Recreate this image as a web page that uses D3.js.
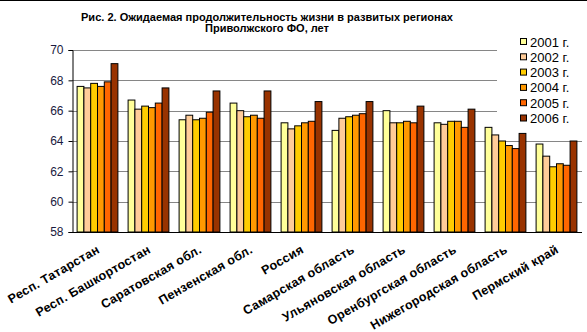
<!DOCTYPE html>
<html>
<head>
<meta charset="utf-8">
<script src="https://cdn.jsdelivr.net/npm/d3@7"></script>
<style>
  html, body { margin: 0; padding: 0; background: #fff; }
  svg { display: block; font-family: Arial, "Liberation Sans", sans-serif; }
</style>
</head>
<body>
<svg id="chart" width="587" height="332"></svg>
<script>
// Regions of the Volga Federal District plus Russia overall
const regions = [
  "Респ. Татарстан", "Респ. Башкортостан", "Саратовская обл.", "Пензенская обл.",
  "Россия", "Самарская область", "Ульяновская область", "Оренбургская область",
  "Нижегородская область", "Пермский край"
];
const years = ["2001 г.", "2002 г.", "2003 г.", "2004 г.", "2005 г.", "2006 г."];
const yearColors = ["#FFFF99", "#FFCC99", "#FFCC00", "#FF9900", "#FF6600", "#993300"];

// Life expectancy, years — one array per year, in region order
const v2001 = [67.6, 66.7, 65.4, 66.5, 65.2, 64.7, 66.0, 65.2, 64.9, 63.8];
const v2002 = [67.5, 66.1, 65.7, 66.0, 64.8, 65.5, 65.2, 65.1, 64.4, 63.0];
const v2003 = [67.8, 66.3, 65.4, 65.6, 65.0, 65.6, 65.2, 65.3, 64.0, 62.3];
const v2004 = [67.6, 66.2, 65.5, 65.7, 65.2, 65.7, 65.3, 65.3, 63.7, 62.5];
const v2005 = [67.9, 66.5, 65.9, 65.5, 65.3, 65.8, 65.2, 64.9, 63.5, 62.4];
const v2006 = [69.1, 67.5, 67.3, 67.3, 66.6, 66.6, 66.3, 66.1, 64.5, 64.0];
const series = [v2001, v2002, v2003, v2004, v2005, v2006];

const yTicks = [58, 60, 62, 64, 66, 68, 70];
const titleLines = [
  "Рис. 2. Ожидаемая продолжительность жизни в развитых регионах",
  "Приволжского ФО, лет"
];
const titleWidths = [372, 124];

const svg = d3.select("#chart");
const plot = { left: 72, right: 582, top: 50, bottom: 232 };

const x = d3.scaleBand().domain(regions).range([plot.left, plot.right])
  .paddingInner(0.2).paddingOuter(0.1);
const xSub = d3.scaleBand().domain(years).range([0, x.bandwidth()]);
const y = d3.scaleLinear().domain([58, 70]).range([plot.bottom, plot.top]);

// frame line along the top edge
svg.append("line").attr("x1", 0).attr("x2", 587).attr("y1", 0.5).attr("y2", 0.5)
  .attr("stroke", "#000").attr("stroke-width", 1);

// title
svg.append("g").selectAll("text").data(titleLines).join("text")
  .attr("x", 267).attr("y", (d, i) => 20.5 + i * 11.5)
  .attr("text-anchor", "middle")
  .attr("font-size", 11.5).attr("font-weight", "bold").attr("fill", "#000")
  .attr("textLength", (d, i) => titleWidths[i])
  .attr("lengthAdjust", "spacingAndGlyphs")
  .text(d => d);

// horizontal gridlines
svg.append("g").selectAll("line").data(yTicks.filter(t => t > 58)).join("line")
  .attr("x1", plot.left).attr("x2", plot.right)
  .attr("y1", d => Math.round(y(d)) + 0.5).attr("y2", d => Math.round(y(d)) + 0.5)
  .attr("stroke", "#868686").attr("stroke-width", 1);

// bars
const groups = svg.append("g").selectAll("g").data(regions).join("g")
  .attr("transform", d => `translate(${x(d)},0)`);
groups.selectAll("rect")
  .data((r, ri) => years.map((yr, k) => ({ yr, k, v: series[k][ri] })))
  .join("rect")
  .attr("x", d => xSub(d.yr))
  .attr("width", xSub.bandwidth())
  .attr("y", d => y(d.v))
  .attr("height", d => y(58) - y(d.v))
  .attr("fill", d => yearColors[d.k])
  .attr("stroke", "#000").attr("stroke-width", 1);

// y axis
const yAxis = d3.axisLeft(y).tickValues(yTicks).tickSize(4).tickPadding(5).tickFormat(d3.format("d"));
const ga = svg.append("g").attr("transform", `translate(${plot.left + 0.5},0)`).call(yAxis);
ga.select(".domain").attr("stroke", "#000");
ga.selectAll(".tick line").attr("stroke", "#000");
ga.selectAll(".tick text").attr("font-size", 12).attr("fill", "#1a1a40")
  .attr("font-family", "Arial, 'Liberation Sans', sans-serif");

// baseline
svg.append("line").attr("x1", plot.left).attr("x2", plot.right)
  .attr("y1", Math.round(y(58)) + 0.5).attr("y2", Math.round(y(58)) + 0.5)
  .attr("stroke", "#000").attr("stroke-width", 1.2);

// category labels, slanted
svg.append("g").selectAll("text").data(regions).join("text")
  .attr("transform", d => `translate(${x(d) + x.bandwidth() / 2 + 3},252) rotate(-30)`)
  .attr("text-anchor", "end")
  .attr("font-size", 12.5).attr("font-weight", "bold").attr("fill", "#000")
  .attr("letter-spacing", 0.3)
  .text(d => d);

// legend
const legend = svg.append("g");
legend.append("rect").attr("x", 497).attr("y", 33).attr("width", 85).attr("height", 96)
  .attr("fill", "#fff");
const items = legend.selectAll("g").data(years).join("g")
  .attr("transform", (d, i) => `translate(520,${46.5 + i * 15.3})`);
items.append("rect").attr("x", 0.5).attr("y", -8).attr("width", 6).attr("height", 6)
  .attr("fill", (d, i) => yearColors[i]).attr("stroke", "#000").attr("stroke-width", 1);
items.append("text").attr("x", 10).attr("y", 0)
  .attr("font-size", 13).attr("fill", "#000")
  .text(d => d);
</script>
</body>
</html>
